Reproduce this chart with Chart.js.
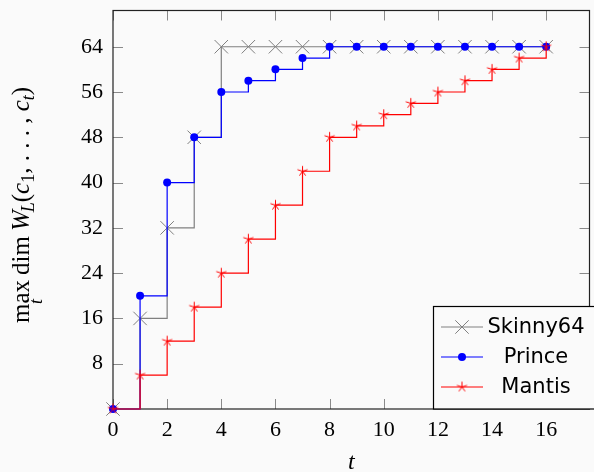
<!DOCTYPE html>
<html>
<head>
<meta charset="utf-8">
<script src="https://cdn.jsdelivr.net/npm/chart.js@4"></script>
<style>
  html, body { margin: 0; padding: 0; background: #fafafa; overflow: hidden; }
  canvas { display: block; }
</style>
</head>
<body>
<canvas id="wlCanvas" width="600" height="472"></canvas>
<script>
// dados
const tValues = [0, 1, 2, 3, 4, 5, 6, 7, 8, 9, 10, 11, 12, 13, 14, 15, 16];
const skinny64 = [0, 16, 32, 48, 64, 64, 64, 64, 64, 64, 64, 64, 64, 64, 64, 64, 64];
const prince = [0, 20, 40, 48, 56, 58, 60, 62, 64, 64, 64, 64, 64, 64, 64, 64, 64];
const mantis = [0, 6, 12, 18, 24, 30, 36, 42, 48, 50, 52, 54, 56, 58, 60, 62, 64];
const seriesNames = ['Skinny64', 'Prince', 'Mantis'];
const xTicks = [0, 2, 4, 6, 8, 10, 12, 14, 16];
const yTicks = [8, 16, 24, 32, 40, 48, 56, 64];

const BG = '#fafafa';
const serif = '"Liberation Serif", "Times New Roman", serif';

// marcador "star" de 5 braços (como no pgfplots)
function makeStar(color) {
    const c = document.createElement('canvas');
    c.width = 13;
    c.height = 13;
    const g = c.getContext('2d');
    g.strokeStyle = color;
    g.lineWidth = 1;
    g.beginPath();
    for (let k = 0; k < 5; k++) {
        const a = -Math.PI / 2 + k * 2 * Math.PI / 5;
        g.moveTo(6.5, 6.5);
        g.lineTo(6.5 + 5.3 * Math.cos(a), 6.5 + 5.3 * Math.sin(a));
    }
    g.stroke();
    return c;
}
const redStar = makeStar('#ff0000');

function toPoints(values) {
    return tValues.map((t, i) => ({ x: t, y: values[i] }));
}

// moldura e marcas de escala para dentro
const frameTicks = {
    id: 'frameTicks',
    beforeDatasetsDraw(chart) {
        const { ctx, chartArea: a, scales } = chart;
        ctx.save();
        ctx.strokeStyle = '#8a8a8a';
        ctx.lineWidth = 1;
        const len = 10;
        ctx.beginPath();
        xTicks.forEach(v => {
            const x = Math.round(scales.x.getPixelForValue(v)) + 0.5;
            ctx.moveTo(x, a.bottom); ctx.lineTo(x, a.bottom - len);
            ctx.moveTo(x, a.top); ctx.lineTo(x, a.top + len);
        });
        yTicks.forEach(v => {
            const y = Math.round(scales.y.getPixelForValue(v)) + 0.5;
            ctx.moveTo(a.left, y); ctx.lineTo(a.left + len, y);
            ctx.moveTo(a.right, y); ctx.lineTo(a.right - len, y);
        });
        ctx.stroke();
        ctx.strokeStyle = '#222';
        ctx.lineWidth = 1.2;
        ctx.strokeRect(a.left, a.top, a.right - a.left, a.bottom - a.top);
        ctx.restore();
    }
};

// título do eixo y: max_t dim W_L(c_1, ..., c_t)
const yTitle = {
    id: 'yTitle',
    afterDraw(chart) {
        const { ctx } = chart;
        const fs = 25;
        const rm = `${fs}px ${serif}`;
        const it = `italic ${fs}px ${serif}`;
        const sRm = `${Math.round(fs * 0.7)}px ${serif}`;
        const sIt = `italic ${Math.round(fs * 0.7)}px ${serif}`;
        const parts = [
            { t: 'max', f: rm },
            { t: 't', f: sIt, under: true },
            { t: '\u2009dim\u2009', f: rm },
            { t: 'W', f: it },
            { t: 'L', f: sIt, dy: 5, dx: -2 },
            { t: '(', f: rm },
            { t: 'c', f: it },
            { t: '1', f: sRm, dy: 5 },
            { t: ', . . . , ', f: rm },
            { t: 'c', f: it },
            { t: 't', f: sIt, dy: 5 },
            { t: ')', f: rm }
        ];
        ctx.save();
        let total = 0;
        parts.forEach(p => {
            ctx.font = p.f;
            p.w = ctx.measureText(p.t).width;
            if (!p.under) total += p.w + (p.dx || 0);
        });
        ctx.translate(29, 205);
        ctx.rotate(-Math.PI / 2);
        ctx.fillStyle = '#000';
        ctx.textBaseline = 'alphabetic';
        let x = -total / 2;
        let prev = null;
        parts.forEach(p => {
            ctx.font = p.f;
            if (p.under && prev) {
                ctx.fillText(p.t, x - prev.w / 2 - p.w / 2, 13);
                return;
            }
            x += p.dx || 0;
            ctx.fillText(p.t, x, p.dy || 0);
            x += p.w;
            prev = p;
        });
        ctx.restore();
    }
};

function drawMarker(ctx, ds, x, y) {
    const st = ds.pointStyle;
    if (st instanceof HTMLCanvasElement) {
        ctx.drawImage(st, x - st.width / 2, y - st.height / 2);
    } else if (st === 'circle') {
        ctx.fillStyle = ds.pointBackgroundColor;
        ctx.beginPath();
        ctx.arc(x, y, ds.pointRadius, 0, Math.PI * 2);
        ctx.fill();
    } else if (st === 'crossRot') {
        const r = ds.pointRadius * Math.SQRT1_2;
        ctx.strokeStyle = ds.pointBorderColor;
        ctx.lineWidth = 1;
        ctx.beginPath();
        ctx.moveTo(x - r, y - r); ctx.lineTo(x + r, y + r);
        ctx.moveTo(x - r, y + r); ctx.lineTo(x + r, y - r);
        ctx.stroke();
    }
}

// legenda desenhada à mão, com caixa preta
const boxLegend = {
    id: 'boxLegend',
    afterDraw(chart) {
        const { ctx, chartArea: a } = chart;
        const left = 433.5, top = 306.5;
        ctx.save();
        ctx.fillStyle = BG;
        ctx.fillRect(left, top, a.right + 10 - left, a.bottom - top);
        ctx.strokeStyle = '#000';
        ctx.lineWidth = 1.2;
        ctx.strokeRect(left, top, a.right + 10 - left, a.bottom - top);
        chart.data.datasets.forEach((ds, i) => {
            const y = 327 + i * 30;
            ctx.strokeStyle = ds.borderColor;
            ctx.lineWidth = ds.borderWidth;
            ctx.beginPath();
            ctx.moveTo(441, y); ctx.lineTo(483, y);
            ctx.stroke();
            drawMarker(ctx, ds, 462, y);
            ctx.fillStyle = '#000';
            ctx.font = '21px "DejaVu Sans", sans-serif';
            ctx.textAlign = 'center';
            ctx.textBaseline = 'middle';
            ctx.fillText(ds.label, 536, y + 1);
        });
        ctx.restore();
    }
};

const bgPlugin = {
    id: 'bg',
    beforeDraw(chart) {
        const { ctx, width, height } = chart;
        ctx.save();
        ctx.fillStyle = BG;
        ctx.fillRect(0, 0, width, height);
        ctx.restore();
    }
};

const chartWL = new Chart(document.getElementById('wlCanvas'), {
    type: 'line',
    data: {
        datasets: [
            {
                label: seriesNames[0],
                data: toPoints(skinny64),
                borderColor: '#808080',
                borderWidth: 1.2,
                stepped: true,
                pointStyle: 'crossRot',
                pointRadius: 9.5,
                pointBorderColor: '#808080',
                pointBackgroundColor: '#808080',
                pointBorderWidth: 1,
                order: 2,
                clip: false
            },
            {
                label: seriesNames[1],
                data: toPoints(prince),
                borderColor: '#0000ff',
                borderWidth: 1.2,
                stepped: true,
                pointStyle: 'circle',
                pointRadius: 4,
                pointBorderWidth: 0,
                pointBorderColor: '#0000ff',
                pointBackgroundColor: '#0000ff',
                order: 1,
                clip: false
            },
            {
                label: seriesNames[2],
                data: toPoints(mantis),
                borderColor: '#ff0000',
                borderWidth: 1.2,
                stepped: true,
                pointStyle: redStar,
                pointRadius: 6,
                pointBorderColor: '#ff0000',
                pointBackgroundColor: '#ff0000',
                order: 0,
                clip: false
            }
        ]
    },
    options: {
        responsive: false,
        animation: false,
        devicePixelRatio: 1,
        layout: { padding: { top: 7, right: 4, left: 0, bottom: 0 } },
        plugins: {
            legend: { display: false },
            tooltip: { enabled: false }
        },
        scales: {
            x: {
                type: 'linear',
                min: 0,
                max: 17.6,
                afterBuildTicks: s => { s.ticks = xTicks.map(v => ({ value: v })); },
                afterFit: s => { s.height = 63; s.paddingLeft = 0; s.paddingRight = 0; },
                grid: { display: false, drawTicks: false },
                border: { display: false },
                ticks: {
                    color: '#000',
                    padding: 8,
                    maxRotation: 0,
                    font: { family: serif, size: 22 }
                },
                title: {
                    display: true,
                    text: 't',
                    color: '#000',
                    padding: { top: 0, bottom: 0 },
                    font: { family: serif, size: 24, style: 'italic', lineHeight: 0.75 }
                }
            },
            y: {
                type: 'linear',
                min: 0,
                max: 70.4,
                afterBuildTicks: s => { s.ticks = yTicks.map(v => ({ value: v })); },
                afterFit: s => { s.width = 113; s.paddingTop = 0; s.paddingBottom = 0; },
                grid: { display: false, drawTicks: false },
                border: { display: false },
                ticks: {
                    color: '#000',
                    padding: 10,
                    font: { family: serif, size: 22 }
                }
            }
        }
    },
    plugins: [bgPlugin, frameTicks, yTitle, boxLegend]
});
</script>
</body>
</html>
